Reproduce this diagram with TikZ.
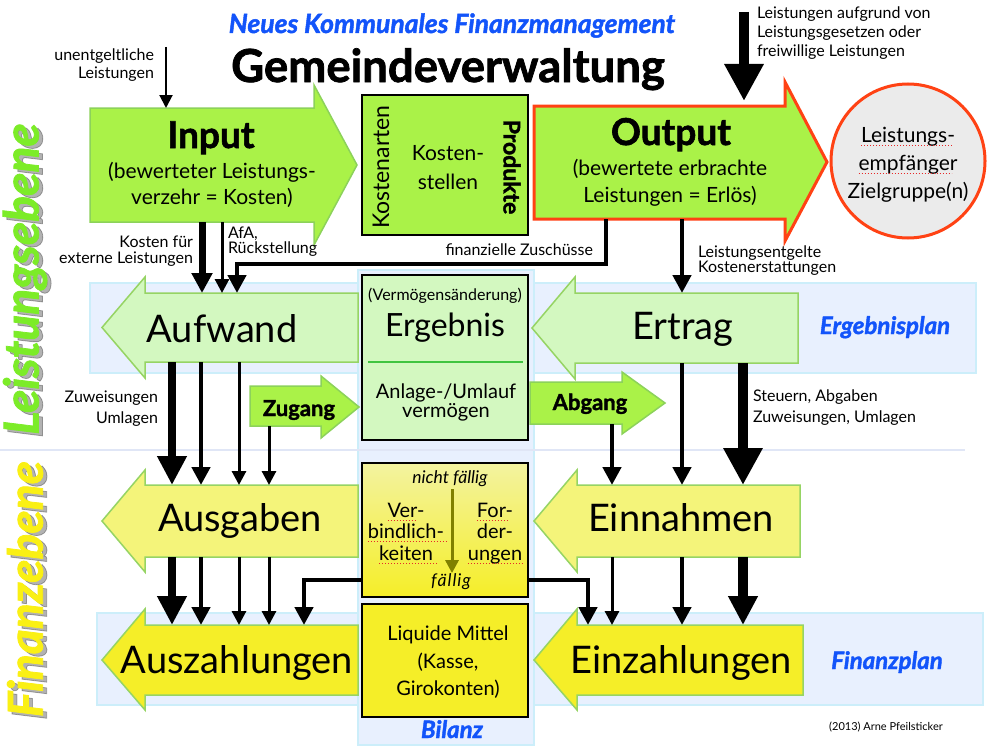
\documentclass[tikz,border=0pt]{standalone}
\usepackage{fontspec}
\setmainfont{Lato}
\newfontfamily\heavy{Lato}[FakeBold=1.6]
\usetikzlibrary{arrows.meta}
\definecolor{kgreen}{RGB}{170,242,72}
\definecolor{kgreenline}{RGB}{140,210,90}
\definecolor{lgreen}{RGB}{211,248,192}
\definecolor{lgreenline}{RGB}{150,212,100}
\definecolor{lyellow}{RGB}{244,244,122}
\definecolor{yyellow}{RGB}{245,238,40}
\definecolor{bandfill}{RGB}{232,240,254}
\definecolor{bandline}{RGB}{204,238,250}
\definecolor{sepcol}{RGB}{224,230,246}
\definecolor{outred}{RGB}{255,66,20}
\definecolor{circgray}{RGB}{235,235,235}
\definecolor{titleblue}{RGB}{18,84,250}
\definecolor{ebgreen}{RGB}{124,236,40}
\definecolor{ebyellow}{RGB}{250,240,20}
\definecolor{arrolive}{RGB}{128,128,0}
\definecolor{sepgreen}{RGB}{64,196,64}
\definecolor{verbtop}{RGB}{243,243,160}
\definecolor{spellred}{RGB}{230,40,40}
\newcommand\fsz[2]{\fontsize{#1}{#2}\selectfont}
\begin{document}
\begin{tikzpicture}[x=1pt,y=-1pt,
  body/.style={draw=none,inner sep=0pt,outer sep=0pt},
  txt/.style={inner sep=0pt,outer sep=0pt,align=center},
  small/.style={txt,font=\fsz{16}{16}},
  bluelab/.style={txt,anchor=base,text=titleblue,font=\fsz{24}{24}\heavy\bfseries\itshape},
  band/.style={fill=bandfill,draw=bandline,line width=1.5},
  greenarrow/.style={fill=kgreen,draw=kgreenline,line width=1.5},
  lgarrow/.style={fill=lgreen,draw=lgreenline,line width=1.5},
  lyarrow/.style={fill=lyellow,draw=lgreenline,line width=1.5},
  yyarrow/.style={fill=yyellow,draw=lgreenline,line width=1.5},
  bigtxt/.style={txt,anchor=base,font=\fsz{38}{38}},
  conn/.style={draw=black,line join=miter},
  aXS/.style={conn,line width=2,-{Triangle[length=13pt,width=13pt]}},
  aS/.style={conn,line width=3,-{Triangle[length=14pt,width=14pt]}},
  aM/.style={conn,line width=4.5,-{Triangle[length=18pt,width=18pt]}},
  aL/.style={conn,line width=7,-{Triangle[length=20pt,width=20pt]}},
  aXL/.style={conn,line width=8,-{Triangle[length=29pt,width=28pt]}},
  aXXL/.style={conn,line width=10,-{Triangle[length=37pt,width=37pt]}},
  spell/.style={draw=spellred,line width=1,dotted},
  sidelab/.style={txt,rotate=90,font=\fsz{48}{48}\heavy\bfseries\itshape}
]
\useasboundingbox (0,0) rectangle (1001,752);
\fill[white] (0,0) rectangle (1001,752);

% bands
\draw[band] (90,283) rectangle (976,373);
\draw[band] (97,613) rectangle (983,705);
\draw[band] (358,270) rectangle (534,745);
\draw[sepcol,line width=2.5] (0,450) -- (965,450);

% side labels
\node[sidelab,text=black,opacity=0.3] (lebeneS) at (29,282) {Leistungsebene};
\node[sidelab,text=ebgreen] (lebene) at (25,279) {Leistungsebene};
\node[sidelab,text=black,opacity=0.3] (febeneS) at (29,592) {Finanzebene};
\node[sidelab,text=ebyellow] (febene) at (25,589) {Finanzebene};

% titles
\node[txt,anchor=base,text=titleblue,font=\fsz{26.5}{26.5}\heavy\bfseries\itshape] (title) at (452,33) {Neues Kommunales Finanzmanagement};
\node[txt,anchor=base,font=\fsz{45.5}{45.5}\heavy\bfseries] (gemeinde) at (448,82) {Gemeindeverwaltung};

% top labels
\node[small,anchor=base east] (unent1) at (154,60) {unentgeltliche};
\node[small,anchor=base east] (unent2) at (154,78) {Leistungen};
\node[small,anchor=base west] (lauf1) at (757,19) {Leistungen aufgrund von};
\node[small,anchor=base west] (lauf2) at (757,38) {Leistungsgesetzen oder};
\node[small,anchor=base west] (lauf3) at (757,57) {freiwillige Leistungen};

% Input
\draw[greenarrow] (90,108) -- (314,108) -- (314,85) -- (357,165) -- (314,245) -- (314,222) -- (90,222) -- cycle;
\node[body,minimum width=224,minimum height=114] (input) at (202,165) {};
\node[txt,anchor=base,font=\fsz{37}{37}\heavy\bfseries] (inputT) at (211,148) {Input};
\node[txt,anchor=base,font=\fsz{21}{21}] (inputS1) at (212,178) {(bewerteter Leistungs-};
\node[txt,anchor=base,font=\fsz{21}{21}] (inputS2) at (212,204) {verzehr = Kosten)};

% Kostenarten box
\node[draw=black,line width=2,fill=kgreen,minimum width=166,minimum height=140,inner sep=0] (kbox) at (445,165) {};
\node[txt,rotate=90,font=\fsz{23}{23}] (karten) at (381,167) {Kostenarten};
\node[txt,anchor=base,font=\fsz{21}{21}] (kst1) at (448,160) {Kosten-};
\node[txt,anchor=base,font=\fsz{21}{21}] (kst2) at (448,189) {stellen};
\node[txt,rotate=-90,font=\fsz{23}{23}\heavy\bfseries] (prod) at (512,167) {Produkte};

% Output
\draw[fill=kgreen,draw=outred,line width=3] (534,106) -- (785,106) -- (785,82) -- (827,162) -- (785,241) -- (785,219) -- (534,219) -- cycle;
\node[body,minimum width=251,minimum height=113] (output) at (659.5,162.5) {};
\node[txt,anchor=base,font=\fsz{37}{37}\heavy\bfseries] (outputT) at (671,145) {Output};
\node[txt,anchor=base,font=\fsz{21}{21}] (outputS1) at (670,175) {(bewertete erbrachte};
\node[txt,anchor=base,font=\fsz{21}{21}] (outputS2) at (670,202) {Leistungen = Erlös)};

% circle
\node[circle,draw=outred,line width=3,fill=circgray,minimum size=154,inner sep=0] (circ) at (908,161) {};
\node[txt,anchor=base,font=\fsz{21}{21}] (c1) at (908,142) {Leistungs-};
\node[txt,anchor=base,font=\fsz{21}{21}] (c2) at (908,170) {empfänger};
\node[txt,anchor=base,font=\fsz{21}{21}] (c3) at (908,198) {Zielgruppe(n)};
\draw[spell] (c1.base west)++(0,3) -- ++(91,0);
\draw[spell] (c2.base west)++(0,3) -- ++(93,0);

% small labels around Input/Output
\node[small,anchor=base east] (kf1) at (193,247) {Kosten für};
\node[small,anchor=base east] (kf2) at (193,263) {externe Leistungen};
\node[small,anchor=base west] (afa1) at (228,238) {AfA,};
\node[small,anchor=base west] (afa2) at (228,253) {Rückstellung};
\node[small,anchor=base east] (zusch) at (593,255) {finanzielle Zuschüsse};
\node[small,anchor=base west] (lent1) at (698,257) {Leistungsentgelte};
\node[small,anchor=base west] (lent2) at (698,272) {Kostenerstattungen};

% Aufwand
\draw[lgarrow] (358,293) -- (145,293) -- (145,277) -- (102,327.5) -- (145,378) -- (145,362) -- (358,362) -- cycle;
\node[body,minimum width=213,minimum height=69] (aufwand) at (251.5,327.5) {};
\node[bigtxt] (aufwandT) at (222,342) {Aufwand};

% Ertrag
\draw[lgarrow] (575,293) -- (798,293) -- (798,363) -- (575,363) -- (575,379) -- (532,328) -- (575,277) -- cycle;
\node[body,minimum width=223,minimum height=70] (ertrag) at (686.5,328) {};
\node[bigtxt] (ertragT) at (683,339) {Ertrag};
\node[bluelab] (ergplan) at (885,334) {Ergebnisplan};

% Ergebnis box
\node[draw=black,line width=2,fill=lgreen,minimum width=166,minimum height=165,inner sep=0] (erg) at (445,357.5) {};
\node[txt,anchor=base,font=\fsz{16}{16}] (vaend) at (445,300) {(Vermögensänderung)};
\node[txt,anchor=base,font=\fsz{32}{32}] (ergT) at (445,336) {Ergebnis};
\draw[sepgreen,line width=2.5] (368,362) -- (523,362);
\node[txt,anchor=base,font=\fsz{20}{20}] (anl1) at (446,398) {Anlage-/Umlauf};
\node[txt,anchor=base,font=\fsz{20}{20}] (anl2) at (446,417) {vermögen};

% Zugang / Abgang
\draw[greenarrow] (250,386) -- (321,386) -- (321,376) -- (359,407) -- (321,438) -- (321,426) -- (250,426) -- cycle;
\node[body,minimum width=71,minimum height=40] (zugang) at (285.5,406) {};
\node[txt,anchor=base,font=\fsz{22}{22}\heavy\bfseries] (zugangT) at (299,416) {Zugang};
\draw[greenarrow] (530,382) -- (622,382) -- (622,372) -- (665,403) -- (622,434) -- (622,424) -- (530,424) -- cycle;
\node[body,minimum width=92,minimum height=42] (abgang) at (576,403) {};
\node[txt,anchor=base,font=\fsz{22}{22}\heavy\bfseries] (abgangT) at (590,410) {Abgang};

% labels middle
\node[small,anchor=base east] (zw1) at (158,402) {Zuweisungen};
\node[small,anchor=base east] (zw2) at (158,423) {Umlagen};
\node[small,anchor=base west] (st1) at (753,401) {Steuern, Abgaben};
\node[small,anchor=base west] (st2) at (753,422) {Zuweisungen, Umlagen};

% Ausgaben / Einnahmen
\draw[lyarrow] (358,485) -- (145,485) -- (145,470) -- (102,521) -- (145,572) -- (145,557) -- (358,557) -- cycle;
\node[body,minimum width=213,minimum height=72] (ausgaben) at (251.5,521) {};
\node[bigtxt] (ausgabenT) at (240,531) {Ausgaben};
\draw[lyarrow] (577,485) -- (800,485) -- (800,557) -- (577,557) -- (577,572) -- (534,521) -- (577,470) -- cycle;
\node[body,minimum width=223,minimum height=72] (einnahmen) at (688.5,521) {};
\node[bigtxt] (einnahmenT) at (681,531) {Einnahmen};

% Verbindlichkeiten box
\node[draw=black,line width=2,top color=verbtop,bottom color=yyellow,minimum width=166,minimum height=134,inner sep=0] (verb) at (445,530) {};
\node[txt,anchor=base,font=\fsz{17.5}{17.5}\itshape] (nf) at (450,483) {nicht fällig};
\node[txt,anchor=base,font=\fsz{17.5}{17.5}\itshape] (fa) at (451,586) {f\kern1ptä\kern1ptl\kern1ptl\kern1pti\kern1ptg};
\node[txt,anchor=base,font=\fsz{20}{20}] (vb1) at (406,517) {Ver-};
\node[txt,anchor=base,font=\fsz{20}{20}] (vb2) at (406,538) {bindlich-};
\node[txt,anchor=base,font=\fsz{20}{20}] (vb3) at (406,560) {keiten};
\node[txt,anchor=base,font=\fsz{20}{20}] (fo1) at (495,517) {For-};
\node[txt,anchor=base,font=\fsz{20}{20}] (fo2) at (495,538) {der-};
\node[txt,anchor=base,font=\fsz{20}{20}] (fo3) at (495,560) {ungen};
\draw[spell] (vb1.base west)++(0,3) -- ++(30,0);
\draw[spell] (vb2.base west)++(0,3) -- ++(80,0);
\draw[spell] (vb3.base west)++(0,3) -- ++(58,0);
\draw[spell] (fo1.base west)++(0,3) -- ++(32,0);
\draw[spell] (fo3.base west)++(0,3) -- ++(56,0);
\coordinate (nfbot) at (452,489);
\draw[draw=arrolive,line width=3,-{Triangle[length=13pt,width=13pt]}] (nfbot) -- (nfbot |- fa.north);

% Liquide Mittel
\node[draw=black,line width=2,fill=yyellow,minimum width=166,minimum height=113,inner sep=0] (liq) at (445,660) {};
\node[txt,anchor=base,font=\fsz{20}{20}] (lq1) at (448,640) {Liquide Mittel};
\node[txt,anchor=base,font=\fsz{20}{20}] (lq2) at (448,668) {(Kasse,};
\node[txt,anchor=base,font=\fsz{20}{20}] (lq3) at (448,695) {Girokonten)};
\node[bluelab] (bilanz) at (452,738) {Bilanz};

% Auszahlungen / Einzahlungen
\draw[yyarrow] (358,625) -- (145,625) -- (145,609) -- (102,660) -- (145,710) -- (145,695) -- (358,695) -- cycle;
\node[body,minimum width=213,minimum height=70] (auszahlungen) at (251.5,660) {};
\node[bigtxt] (auszT) at (237,673) {Auszahlungen};
\draw[yyarrow] (577,625) -- (803,625) -- (803,695) -- (577,695) -- (577,710) -- (534,660) -- (577,609) -- cycle;
\node[body,minimum width=226,minimum height=70] (einzahlungen) at (690,660) {};
\node[bigtxt] (einzT) at (681,673) {Einzahlungen};
\node[bluelab] (finplan) at (887,669) {Finanzplan};
\node[txt,anchor=base,font=\fsz{11}{11}] (copy) at (886,730) {(2013) Arne Pfeilsticker};

% columns
\coordinate (c166) at (166,47);
\coordinate (c744) at (744,12);
\coordinate (c202) at (202,0);
\coordinate (c222) at (222,0);
\coordinate (c237) at (237,264);
\coordinate (c606) at (606,0);
\coordinate (c682) at (682,0);
\coordinate (c172) at (172,0);
\coordinate (c201) at (201,0);
\coordinate (c239) at (239,0);
\coordinate (c269) at (269,0);
\coordinate (c304) at (304,0);
\coordinate (c612) at (612,0);
\coordinate (c743) at (743,0);
\coordinate (c588) at (588,0);
\coordinate (fy) at (0,580);

% connectors
\draw[aXS] (c166) -- (input.north -| c166);
\draw[aXXL,shorten >=5pt] (c744) -- (output.north -| c744);
\draw[aL] (input.south -| c202) -- (aufwand.north -| c202);
\draw[aS] (input.south -| c222) -- (aufwand.north -| c222);
\draw[aM] (output.south -| c606) |- (c237) -- (aufwand.north -| c237);
\draw[aM] (output.south -| c682) -- (ertrag.north -| c682);

\draw[aXL] (aufwand.south -| c172) -- (ausgaben.north -| c172);
\draw[aM] (aufwand.south -| c201) -- (ausgaben.north -| c201);
\draw[aS] (aufwand.south -| c239) -- (ausgaben.north -| c239);
\draw[aS] (zugang.south -| c269) -- (ausgaben.north -| c269);

\draw[aXL] (ausgaben.south -| c172) -- (auszahlungen.north -| c172);
\draw[aM] (ausgaben.south -| c201) -- (auszahlungen.north -| c201);
\draw[aS] (ausgaben.south -| c239) -- (auszahlungen.north -| c239);
\draw[aS] (ausgaben.south -| c269) -- (auszahlungen.north -| c269);
\draw[aM] (verb.west |- fy) -| (auszahlungen.north -| c304);

\draw[aM] (abgang.south -| c612) -- (einnahmen.north -| c612);
\draw[aM] (ertrag.south -| c682) -- (einnahmen.north -| c682);
\draw[aXXL] (ertrag.south -| c743) -- (einnahmen.north -| c743);

\draw[aS] (einnahmen.south -| c612) -- (einzahlungen.north -| c612);
\draw[aM] (einnahmen.south -| c682) -- (einzahlungen.north -| c682);
\draw[aXL,line width=10] (einnahmen.south -| c743) -- (einzahlungen.north -| c743);
\draw[aM] (verb.east |- fy) -| (einzahlungen.north -| c588);
\end{tikzpicture}
\end{document}
